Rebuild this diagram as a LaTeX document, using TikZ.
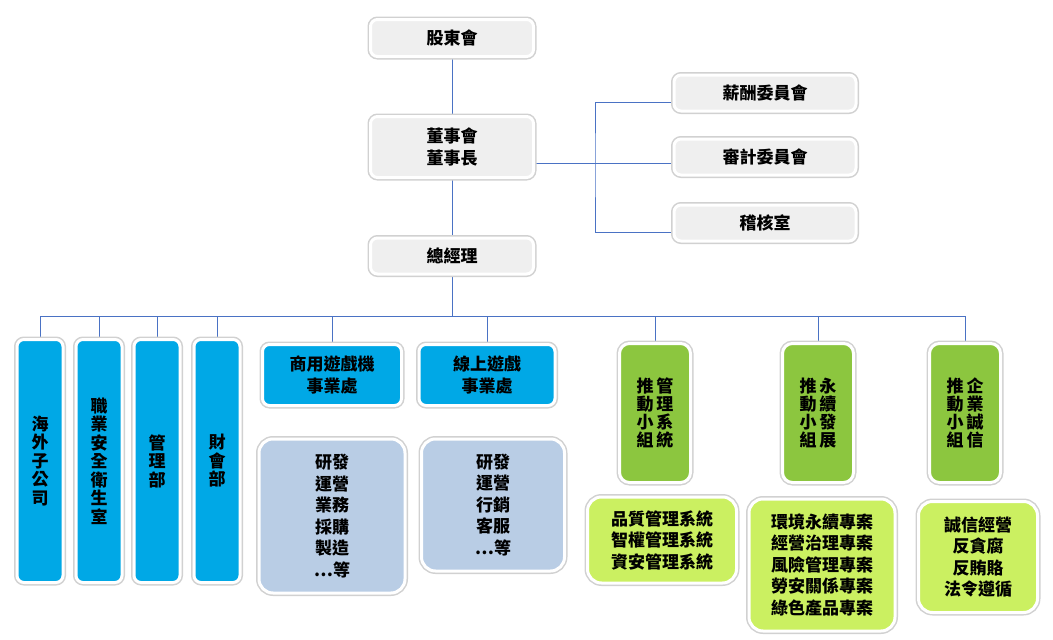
\documentclass[tikz,border=0pt]{standalone}
\usepackage{fontspec}
\newfontfamily\cjk{Noto Sans CJK TC}
\usetikzlibrary{backgrounds}
\definecolor{boxgrey}{HTML}{EFEFEF}
\definecolor{boxblue}{HTML}{00A8E6}
\definecolor{boxpale}{HTML}{B9CDE5}
\definecolor{boxgreen}{HTML}{8CC63F}
\definecolor{boxlime}{HTML}{CBF061}
\definecolor{linkblue}{HTML}{4A72C4}
\begin{document}
\begin{tikzpicture}[x=1pt, y=-1pt,
	every node/.style={font=\cjk\bfseries\fontsize{17}{21.5}\selectfont, align=center, inner sep=0pt},
	unit/.style={rounded corners=7pt, draw=white, line width=3pt, preaction={draw=black!18, line width=6pt}},
	greybox/.style={unit, fill=boxgrey, minimum width=163pt},
	bluebox/.style={unit, fill=boxblue},
	palebox/.style={unit, fill=boxpale, rounded corners=14pt},
	greenbox/.style={unit, fill=boxgreen, rounded corners=10pt, minimum width=71pt, minimum height=139pt, font=\cjk\bfseries\fontsize{17}{18}\selectfont},
	limebox/.style={unit, fill=boxlime, rounded corners=14pt},
	tallbox/.style={bluebox, minimum width=46pt, minimum height=243pt, font=\cjk\bfseries\fontsize{17}{18.5}\selectfont},
	link/.style={draw=linkblue, line width=0.8pt}]
	\useasboundingbox (0,0) rectangle (1053,640);
	\node[greybox, minimum height=37pt] (sh) at (452,38) {股東會};
	\node[greybox, minimum height=61pt] (bod) at (452,147) {董事會\\董事長};
	\node[greybox, minimum height=36pt] (gm) at (452,256) {總經理};
	\node[greybox, minimum width=182pt, minimum height=36pt] (rem) at (765,93) {薪酬委員會};
	\node[greybox, minimum width=182pt, minimum height=36pt] (aud) at (765,157) {審計委員會};
	\node[greybox, minimum width=182pt, minimum height=36pt] (ia) at (765,223) {稽核室};
	\node[tallbox] (ovs) at (40,461) {海\\外\\子\\公\\司};
	\node[tallbox] (ohs) at (99,461) {職\\業\\安\\全\\衛\\生\\室};
	\node[tallbox] (mgt) at (157,461) {管\\理\\部};
	\node[tallbox] (fin) at (217,461) {財\\會\\部};
	\node[bluebox, minimum width=139pt, minimum height=61pt] (arc) at (332,375) {商用遊戲機\\事業處};
	\node[bluebox, minimum width=136pt, minimum height=61pt] (onl) at (487,375) {線上遊戲\\事業處};
	\node[palebox, minimum width=146pt, minimum height=154pt] (arcl) at (332,516) {研發\\運營\\業務\\採購\\製造\\…等};
	\node[palebox, minimum width=143pt, minimum height=132pt] (onll) at (493,505) {研發\\運營\\行銷\\客服\\…等};
	\node[greenbox] (qms) at (655,413) {推\hspace{3pt}管\\動\hspace{3pt}理\\小\hspace{3pt}系\\組\hspace{3pt}統};
	\node[greenbox] (esg) at (818,413) {推\hspace{3pt}永\\動\hspace{3pt}續\\小\hspace{3pt}發\\組\hspace{3pt}展};
	\node[greenbox] (itg) at (965,413) {推\hspace{3pt}企\\動\hspace{3pt}業\\小\hspace{3pt}誠\\組\hspace{3pt}信};
	\node[limebox, minimum width=149pt, minimum height=86pt] (qmsl) at (662,540) {品質管理系統\\智權管理系統\\資安管理系統};
	\node[limebox, minimum width=146pt, minimum height=132pt] (esgl) at (822,565) {環境永續專案\\經營治理專案\\風險管理專案\\勞安關係專案\\綠色產品專案};
	\node[limebox, minimum width=119pt, minimum height=111pt] (itgl) at (978,557) {誠信經營\\反貪腐\\反賄賂\\法令遵循};
	\coordinate (rj) at (595,163);
	\coordinate (bj) at (452,316);
	\begin{scope}[on background layer]
		\draw[link] (sh) -- (bod) -- (gm);
		\draw[link] (bod.east |- rj) -- (aud.west |- rj);
		\draw[link] ([yshift=-9pt]rem.west) -| (rj) |- ([yshift=-9pt]ia.west);
		\draw[link] (gm) -- (bj);
		\draw[link] (ovs.north |- bj) -- (itg.north |- bj);
		\foreach \n in {ovs,ohs,mgt,fin,arc,onl,qms,esg,itg}
			\draw[link] (\n.north |- bj) -- (\n.north);
	\end{scope}
\end{tikzpicture}
\end{document}
